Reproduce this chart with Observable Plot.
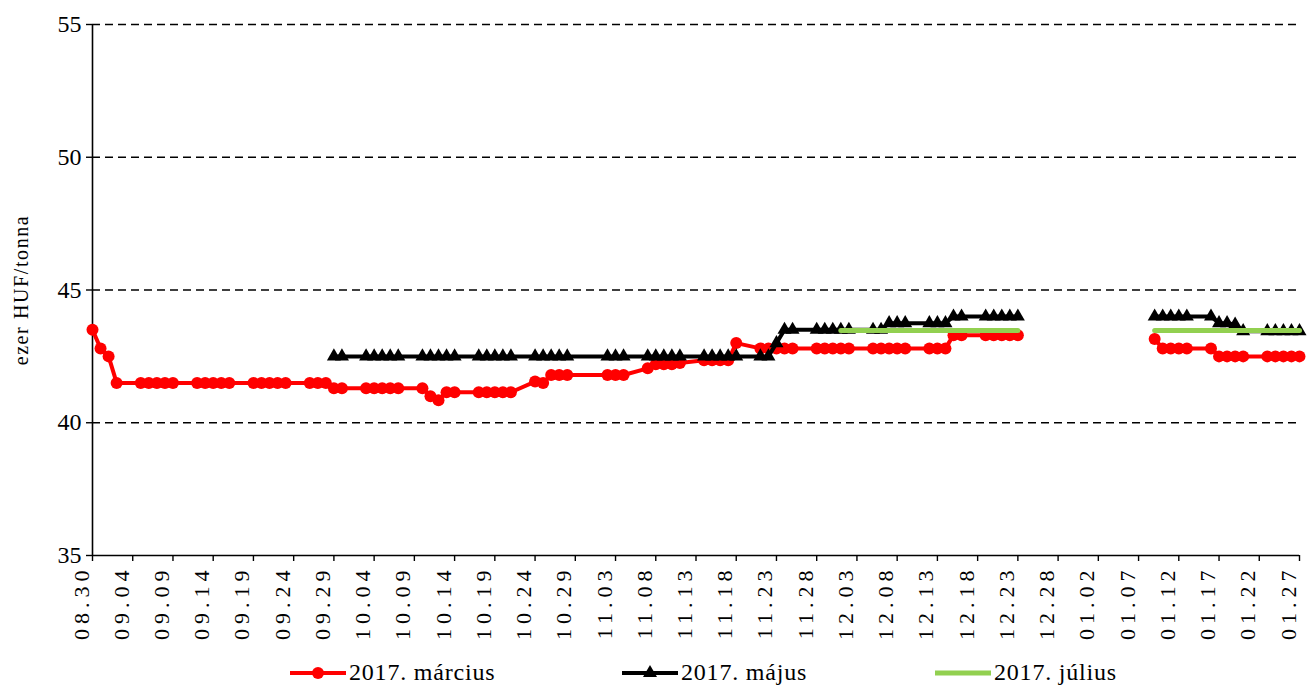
<!DOCTYPE html>
<html><head><meta charset="utf-8">
<script src="https://cdn.jsdelivr.net/npm/d3@7"></script>
<script src="https://cdn.jsdelivr.net/npm/@observablehq/plot@0.6"></script>
<style>
body{margin:0;background:#fff;font-family:"Liberation Serif",serif;}
#chart svg{display:block;}
#chart svg text{font-family:"Liberation Serif",serif !important;}
#legend{position:relative;height:41px;width:1314px;}
.item{position:absolute;top:4px;height:41px;display:flex;align-items:center;font-size:24px;letter-spacing:0.8px;color:#000;white-space:nowrap;}
.item svg{display:block;margin-right:3px;}
.xlab text{letter-spacing:5px;}
.ytitle text{letter-spacing:1.6px;}
</style></head><body><div id="chart"></div><div id="legend"></div>
<script>
// trading days shown on the chart
const dates = [
 "2016-08-30","2016-08-31",
 "2016-09-01","2016-09-02",
 "2016-09-05","2016-09-06","2016-09-07","2016-09-08","2016-09-09",
 "2016-09-12","2016-09-13","2016-09-14","2016-09-15","2016-09-16",
 "2016-09-19","2016-09-20","2016-09-21","2016-09-22","2016-09-23",
 "2016-09-26","2016-09-27","2016-09-28","2016-09-29","2016-09-30",
 "2016-10-03","2016-10-04","2016-10-05","2016-10-06","2016-10-07",
 "2016-10-10","2016-10-11","2016-10-12","2016-10-13","2016-10-14",
 "2016-10-17","2016-10-18","2016-10-19","2016-10-20","2016-10-21",
 "2016-10-24","2016-10-25","2016-10-26","2016-10-27","2016-10-28",
 "2016-11-02","2016-11-03","2016-11-04",
 "2016-11-07","2016-11-08","2016-11-09","2016-11-10","2016-11-11",
 "2016-11-14","2016-11-15","2016-11-16","2016-11-17","2016-11-18",
 "2016-11-21","2016-11-22","2016-11-23","2016-11-24","2016-11-25",
 "2016-11-28","2016-11-29","2016-11-30","2016-12-01","2016-12-02",
 "2016-12-05","2016-12-06","2016-12-07","2016-12-08","2016-12-09",
 "2016-12-12","2016-12-13","2016-12-14","2016-12-15","2016-12-16",
 "2016-12-19","2016-12-20","2016-12-21","2016-12-22","2016-12-23",
 "2017-01-09","2017-01-10","2017-01-11","2017-01-12","2017-01-13",
 "2017-01-16","2017-01-17","2017-01-18","2017-01-19","2017-01-20",
 "2017-01-23","2017-01-24","2017-01-25","2017-01-26","2017-01-27"
];
// 2017. március
const marcius = [
 43.5,42.8,
 42.5,41.5,
 41.5,41.5,41.5,41.5,41.5,
 41.5,41.5,41.5,41.5,41.5,
 41.5,41.5,41.5,41.5,41.5,
 41.5,41.5,41.5,41.3,41.3,
 41.3,41.3,41.3,41.3,41.3,
 41.3,41.0,40.85,41.15,41.15,
 41.15,41.15,41.15,41.15,41.15,
 41.55,41.5,41.8,41.8,41.8,
 41.8,41.8,41.8,
 42.05,42.2,42.2,42.2,42.25,
 42.35,42.35,42.35,42.35,43.0,
 42.8,42.8,42.8,42.8,42.8,
 42.8,42.8,42.8,42.8,42.8,
 42.8,42.8,42.8,42.8,42.8,
 42.8,42.8,42.8,43.3,43.3,
 43.3,43.3,43.3,43.3,43.3,
 43.15,42.8,42.8,42.8,42.8,
 42.8,42.5,42.5,42.5,42.5,
 42.5,42.5,42.5,42.5,42.5
];
// 2017. május
const majus = [
 null,null,
 null,null,
 null,null,null,null,null,
 null,null,null,null,null,
 null,null,null,null,null,
 null,null,null,42.5,42.5,
 42.5,42.5,42.5,42.5,42.5,
 42.5,42.5,42.5,42.5,42.5,
 42.5,42.5,42.5,42.5,42.5,
 42.5,42.5,42.5,42.5,42.5,
 42.5,42.5,42.5,
 42.5,42.5,42.5,42.5,42.5,
 42.5,42.5,42.5,42.5,42.5,
 42.5,42.5,43.0,43.5,43.5,
 43.5,43.5,43.5,43.5,43.5,
 43.5,43.5,43.75,43.75,43.75,
 43.75,43.75,43.75,44.0,44.0,
 44.0,44.0,44.0,44.0,44.0,
 44.0,44.0,44.0,44.0,44.0,
 44.0,43.75,43.75,43.7,43.45,
 43.45,43.45,43.45,43.45,43.45
];
// 2017. július
const julius = [
 null,null,
 null,null,
 null,null,null,null,null,
 null,null,null,null,null,
 null,null,null,null,null,
 null,null,null,null,null,
 null,null,null,null,null,
 null,null,null,null,null,
 null,null,null,null,null,
 null,null,null,null,null,
 null,null,null,
 null,null,null,null,null,
 null,null,null,null,null,
 null,null,null,null,null,
 null,null,null,43.47,43.47,
 43.47,43.47,43.47,43.47,43.47,
 43.47,43.47,43.47,43.47,43.47,
 43.47,43.47,43.47,43.47,43.47,
 43.47,43.47,43.47,43.47,43.47,
 43.47,43.47,43.47,43.47,43.47,
 43.47,43.47,43.47,43.47,43.47
];
const seriesNames = ["2017. március","2017. május","2017. július"];
const seriesColors = ["#ff0000","#000000","#92d050"];
const tickDates = [
 "2016-08-30","2016-09-04","2016-09-09","2016-09-14","2016-09-19","2016-09-24","2016-09-29",
 "2016-10-04","2016-10-09","2016-10-14","2016-10-19","2016-10-24","2016-10-29",
 "2016-11-03","2016-11-08","2016-11-13","2016-11-18","2016-11-23","2016-11-28",
 "2016-12-03","2016-12-08","2016-12-13","2016-12-18","2016-12-23","2016-12-28",
 "2017-01-02","2017-01-07","2017-01-12","2017-01-17","2017-01-22","2017-01-27"
];
const yTicks = [35,40,45,50,55];
const gridValues = [40,45,50,55];
const yTitle = "ezer HUF/tonna";
const serif = "Liberation Serif";

const parse = d3.utcParse("%Y-%m-%d");
const fmt = d3.utcFormat("%m.%d");
const rows = dates.map((d,i)=>({date:parse(d), part:d.slice(0,4), m:marcius[i], j:majus[i], l:julius[i]}));
const red = rows.filter(r=>r.m!=null);
const black = rows.filter(r=>r.j!=null);
const green = rows.filter(r=>r.l!=null);
const xTicks = tickDates.map(parse);

const chart = Plot.plot({
  width:1314, height:648,
  marginLeft:92, marginRight:15, marginTop:24, marginBottom:93,
  style:"font-family:'Liberation Serif',serif;font-size:22px;color:#000;background:#fff;",
  x:{type:"utc", domain:[xTicks[0], xTicks[xTicks.length-1]]},
  y:{domain:[yTicks[0], yTicks[yTicks.length-1]]},
  marks:[
    Plot.ruleY(gridValues,{stroke:"#000", strokeWidth:1.4, strokeDasharray:"8,5"}),
    Plot.axisY(yTicks,{tickSize:6, tickFormat:()=>"", label:null, strokeWidth:1.4}),
    Plot.axisX(xTicks,{tickSize:6, tickFormat:()=>"", label:null, strokeWidth:1.4}),
    Plot.text(yTicks,{y:d=>d, text:d=>String(d), frameAnchor:"left", textAnchor:"end", dx:-11, fontSize:24, fontFamily:serif, fill:"#000"}),
    Plot.text(xTicks,{x:d=>d, text:d=>fmt(d), frameAnchor:"bottom", textAnchor:"end", rotate:-90, dx:-4, dy:10, fontSize:22, fontFamily:serif, fill:"#000", className:"xlab"}),
    Plot.ruleX([xTicks[0]],{stroke:"#000", strokeWidth:1.6}),
    Plot.ruleY([yTicks[0]],{stroke:"#000", strokeWidth:1.6}),
    Plot.line(red,{x:"date", y:"m", z:"part", stroke:seriesColors[0], strokeWidth:4}),
    Plot.dot(red,{x:"date", y:"m", r:6, fill:seriesColors[0], stroke:"none"}),
    Plot.line(black,{x:"date", y:"j", z:"part", stroke:seriesColors[1], strokeWidth:4}),
    Plot.dot(black,{x:"date", y:"j", symbol:"triangle", r:5.2, fill:seriesColors[1], stroke:"none"}),
    Plot.line(green,{x:"date", y:"l", z:"part", stroke:seriesColors[2], strokeWidth:5}),
    Plot.text([yTitle],{text:d=>d, frameAnchor:"left", textAnchor:"middle", rotate:-90, dx:-71, fontSize:20, fontFamily:serif, fill:"#000", className:"ytitle"})
  ]
});
document.getElementById("chart").appendChild(chart);

// legend
const legend = document.getElementById("legend");
const lefts = [290, 622, 935];
seriesNames.forEach((name,i)=>{
  const item = document.createElement("div");
  item.className = "item";
  item.style.left = lefts[i] + "px";
  let marker = "";
  if (i===0) marker = `<circle cx="28" cy="12" r="6" fill="${seriesColors[0]}"/>`;
  if (i===1) marker = `<path transform="translate(28,12)" d="${d3.symbol(d3.symbolTriangle, Math.PI*5.2*5.2)()}" fill="#000"/>`;
  const sw = i===2 ? 5 : 4;
  item.innerHTML = `<svg width="56" height="24"><line x1="0" x2="56" y1="12" y2="12" stroke="${seriesColors[i]}" stroke-width="${sw}"/>${marker}</svg><span>${name}</span>`;
  legend.appendChild(item);
});
</script>
</body></html>
